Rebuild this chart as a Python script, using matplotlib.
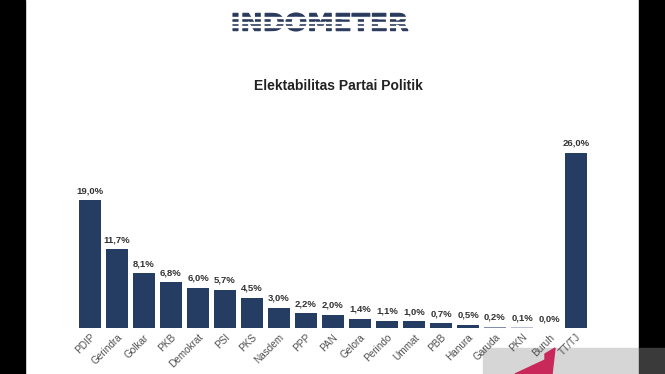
import matplotlib
matplotlib.use("Agg")
import matplotlib.pyplot as plt
from matplotlib.patches import Rectangle, Polygon, PathPatch
from matplotlib.textpath import TextPath
from matplotlib.font_manager import FontProperties
from matplotlib.transforms import Affine2D, IdentityTransform

parties = ["PDIP", "Gerindra", "Golkar", "PKB", "Demokrat", "PSI", "PKS", "Nasdem",
           "PPP", "PAN", "Gelora", "Perindo", "Ummat", "PBB", "Hanura", "Garuda",
           "PKN", "Buruh", "TT/TJ"]
values = [19.0, 11.7, 8.1, 6.8, 6.0, 5.7, 4.5, 3.0, 2.2, 2.0, 1.4, 1.1, 1.0, 0.7,
          0.5, 0.2, 0.1, 0.0, 26.0]
labels = ["19,0%", "11,7%", "8,1%", "6,8%", "6,0%", "5,7%", "4,5%", "3,0%", "2,2%",
          "2,0%", "1,4%", "1,1%", "1,0%", "0,7%", "0,5%", "0,2%", "0,1%", "0,0%", "26,0%"]

W, H = 665, 374
fig = plt.figure(figsize=(W / 100, H / 100), dpi=100)
fig.patch.set_facecolor("white")

navy = "#263d63"
bar_colors = [navy] * len(values)
bar_colors[15] = "#8190a8"
bar_colors[16] = "#b9c1cf"

ax = fig.add_axes([76.5 / W, 46 / H, 513 / W, 188.7 / H])
x = list(range(len(parties)))
ax.bar(x, values, width=0.78, color=bar_colors)
ax.set_xlim(-0.5, len(parties) - 0.5)
ax.set_ylim(0, 28)
for s in ax.spines.values():
    s.set_visible(False)
ax.set_yticks([])
ax.set_xticks(x)
ax.set_xticklabels(parties, rotation=45, ha="right", rotation_mode="anchor",
                   fontsize=7.2, color="#505050", family="Liberation Sans")
ax.tick_params(axis="x", length=0, pad=3)
ax.patch.set_alpha(0)

for xi, v, lab in zip(x, values, labels):
    ax.annotate(lab, (xi, v), xytext=(0, 3.5), textcoords="offset points",
                ha="center", va="bottom", fontsize=6.8, fontweight="bold",
                color="#333333", family="Liberation Sans")

# Title
fig.text(338 / W, 1 - 86 / H, "Elektabilitas Partai Politik", ha="center", va="center",
         fontsize=10, fontweight="bold", color="#222222", family="Liberation Sans")

# Logo fitted into a pixel box
x0, x1, ytop, ybot = 233, 408, 13, 31
tp = TextPath((0, 0), "INDOMETER", size=1,
              prop=FontProperties(family="DejaVu Sans", weight="heavy"))
ext = tp.get_extents()
sx = (x1 - x0) / ext.width
sy = (ybot - ytop) / ext.height
tr = Affine2D().translate(-ext.x0, -ext.y0).scale(sx, sy).translate(x0, H - ybot)
fig.add_artist(PathPatch(tr.transform_path(tp), transform=IdentityTransform(),
                         facecolor="#2a3a5c", edgecolor="#2a3a5c", linewidth=0.8, zorder=9))
for yy in [17.5, 22.0, 26.5]:
    fig.add_artist(Rectangle((x0 - 2, H - yy - 0.5), x1 - x0 + 4, 1.0,
                             transform=IdentityTransform(), color="white", zorder=10))

# Screenshot framing
fig.add_artist(Rectangle((0, 0), 25 / W, 1, transform=fig.transFigure, color="black", zorder=5))
fig.add_artist(Rectangle((639 / W, 26 / H), 26 / W, 1, transform=fig.transFigure,
                         color="black", zorder=5))
fig.add_artist(Rectangle((483 / W, 0), 156 / W, 26 / H, transform=fig.transFigure,
                         color="#d6d6d6", zorder=-2))
fig.add_artist(Rectangle((639 / W, 0), 26 / W, 26 / H, transform=fig.transFigure,
                         color="#3a3a3a", zorder=5))
fig.add_artist(Polygon([(515 / W, 0), (545 / W, 14 / H), (545 / W, 20 / H),
                        (555 / W, 26 / H), (552 / W, 0)], closed=True,
                       transform=fig.transFigure, color="#c8285a", zorder=-1))

fig.savefig("out.png", dpi=100)
